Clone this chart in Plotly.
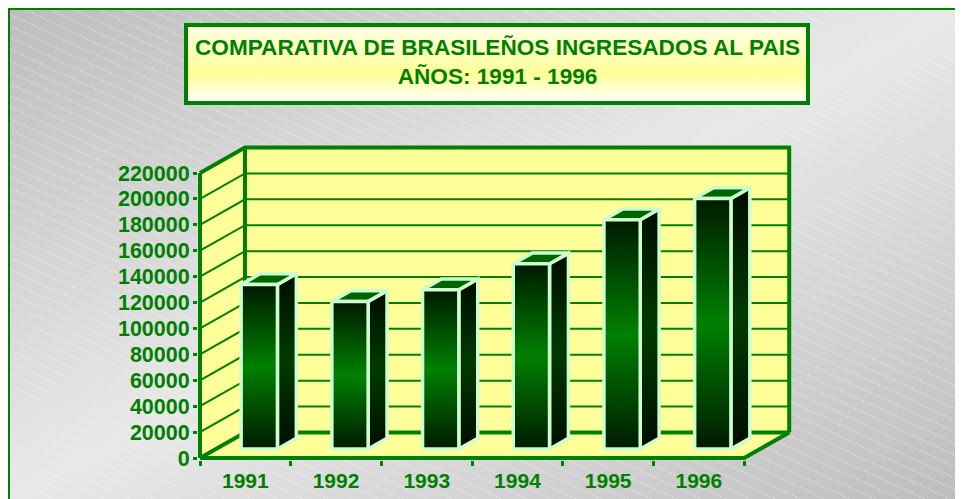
import base64
import plotly.graph_objects as go

# ---------------- data ----------------
years = ['1991', '1992', '1993', '1994', '1995', '1996']
values = [127000, 114000, 123000, 143000, 177000, 193500]
y_ticks = list(range(0, 220001, 20000))
title_text = 'COMPARATIVA DE BRASILEÑOS INGRESADOS AL PAIS<br>AÑOS: 1991 - 1996'

# ---------------- geometry / style ----------------
# (page body has an 8px margin, so figure coords = screen coords - 8)
W, H = 955, 491
PX_CAT = 90.7            # pixels per category
X0_PX = 192              # pixel of category 0 (front plane)
Y0_PX = 450              # pixel of value 0 (front plane)
K = 285 / 220000         # pixels per unit value
PLOT_L, PLOT_R, PLOT_T, PLOT_B = 190, 802, 122, 452

x_range = [(PLOT_L - X0_PX) / PX_CAT, (PLOT_R - X0_PX) / PX_CAT]
y_range = [(Y0_PX - PLOT_B) / K, (Y0_PX - PLOT_T) / K]
DX = 45 / PX_CAT         # depth offset in category units
DV = 25.5 / K            # depth offset in value units
VMAX = y_ticks[-1]
N = len(years)

GREEN = '#008000'
WALL = '#ffff99'
OUTLINE = '#ccffcc'
FONT = 'Liberation Sans, Arial, sans-serif'


def proj(c, v, t):
    return c + t * DX, v + t * DV


def path(points, close=False):
    xs, ys = [], []
    for p in points:
        if p is None:
            xs.append(None)
            ys.append(None)
            continue
        x, y = proj(*p)
        xs.append(x)
        ys.append(y)
    if close:
        xs.append(xs[0])
        ys.append(ys[0])
    return xs, ys


fig = go.Figure()

# walls
walls = [
    [(0, 0, 1), (N, 0, 1), (N, VMAX, 1), (0, VMAX, 1)],      # back wall
    [(0, 0, 0), (0, 0, 1), (0, VMAX, 1), (0, VMAX, 0)],      # left wall
    [(0, 0, 0), (N, 0, 0), (N, 0, 1), (0, 0, 1)],            # floor
]
for w in walls:
    xs, ys = path(w, close=True)
    fig.add_trace(go.Scatter(x=xs, y=ys, mode='lines', fill='toself',
                             fillcolor=WALL, line=dict(width=0),
                             hoverinfo='skip'))

# gridlines
pts = []
for v in y_ticks[1:-1]:
    pts += [(0, v, 0), (0, v, 1), (N, v, 1), None]
xs, ys = path(pts)
fig.add_trace(go.Scatter(x=xs, y=ys, mode='lines',
                         line=dict(color=GREEN, width=2), hoverinfo='skip'))

# thick frame edges
edges = [
    (0, 0, 0), (0, VMAX, 0), None,
    (0, VMAX, 0), (0, VMAX, 1), (N, VMAX, 1), (N, 0, 1), None,
    (0, VMAX, 1), (0, 0, 1), None,
    (0, 0, 0), (0, 0, 1), (N, 0, 1), None,
    (0, 0, 0), (N, 0, 0), (N, 0, 1), None,
]
xs, ys = path(edges)
fig.add_trace(go.Scatter(x=xs, y=ys, mode='lines',
                         line=dict(color=GREEN, width=4), hoverinfo='skip'))

# bars
BAR_OFF, BAR_W = 0.28, 0.40
T0, T1 = 0.35, 0.77
front_scale = [[0, '#001a00'], [0.5, '#008000'], [1, '#001a00']]
side_scale = [[0, '#000c00'], [0.5, '#003a00'], [1, '#000c00']]
for i, v in enumerate(values):
    x0, x1 = i + BAR_OFF, i + BAR_OFF + BAR_W
    side = [(x1, 0, T0), (x1, 0, T1), (x1, v, T1), (x1, v, T0)]
    top = [(x0, v, T0), (x1, v, T0), (x1, v, T1), (x0, v, T1)]
    front = [(x0, 0, T0), (x1, 0, T0), (x1, v, T0), (x0, v, T0)]
    xs, ys = path(side, close=True)
    fig.add_trace(go.Scatter(x=xs, y=ys, mode='lines', fill='toself',
                             fillgradient=dict(type='vertical', colorscale=side_scale),
                             line=dict(color=OUTLINE, width=3.5), hoverinfo='skip'))
    xs, ys = path(top, close=True)
    fig.add_trace(go.Scatter(x=xs, y=ys, mode='lines', fill='toself',
                             fillcolor='#006400',
                             line=dict(color=OUTLINE, width=3.5), hoverinfo='skip'))
    xs, ys = path(front, close=True)
    fig.add_trace(go.Scatter(x=xs, y=ys, mode='lines', fill='toself',
                             fillgradient=dict(type='vertical', colorscale=front_scale),
                             line=dict(color=OUTLINE, width=3.5), hoverinfo='skip'))

# ---------------- background (decoration) ----------------
svg = f'''<svg xmlns="http://www.w3.org/2000/svg" width="{W}" height="{H}" viewBox="0 0 {W} {H}" preserveAspectRatio="none">
<defs>
<linearGradient id="bg" x1="0" y1="0" x2="1" y2="1">
<stop offset="0" stop-color="#bdbdbd"/><stop offset="0.5" stop-color="#e8e8e8"/><stop offset="1" stop-color="#bdbdbd"/>
</linearGradient>
<pattern id="p" width="12" height="10.5" patternUnits="userSpaceOnUse" patternTransform="rotate(25)">
<line x1="0" y1="5" x2="12" y2="5" stroke="#ffffff" stroke-opacity="0.55" stroke-width="1" stroke-dasharray="2 2"/>
</pattern>
<linearGradient id="tb" x1="0" y1="0" x2="0" y2="1">
<stop offset="0" stop-color="#ffffe6"/><stop offset="0.62" stop-color="#ffff99"/><stop offset="1" stop-color="#ffffff"/>
</linearGradient>
</defs>
<rect x="0" y="0" width="{W}" height="{H}" fill="url(#bg)"/>
<rect x="0" y="0" width="{W}" height="{H}" fill="url(#p)"/>
<rect x="0.5" y="0.5" width="{W + 20}" height="{H + 20}" fill="none" stroke="{GREEN}" stroke-width="3"/>
<rect x="178" y="17" width="622" height="78" fill="url(#tb)" stroke="{GREEN}" stroke-width="4"/>
</svg>'''
src = 'data:image/svg+xml;base64,' + base64.b64encode(svg.encode('utf-8')).decode('ascii')

pw, ph = PLOT_R - PLOT_L, PLOT_B - PLOT_T


def px_to_paper(px, py):
    return (px - PLOT_L) / pw, (PLOT_B - py) / ph


ix, iy = px_to_paper(0, 0)
tx, ty = px_to_paper(489, 54)

fig.update_layout(
    width=W, height=H,
    margin=dict(l=PLOT_L, r=W - PLOT_R, t=PLOT_T, b=H - PLOT_B, pad=0),
    paper_bgcolor='#ffffff', plot_bgcolor='rgba(0,0,0,0)',
    showlegend=False,
    images=[dict(source=src, xref='paper', yref='paper', x=ix, y=iy,
                 sizex=W / pw, sizey=H / ph, xanchor='left', yanchor='top',
                 sizing='stretch', layer='below')],
    annotations=[dict(text=title_text, xref='paper', yref='paper', x=tx, y=ty,
                      xanchor='center', yanchor='middle', showarrow=False,
                      font=dict(family=FONT, size=22.6, color=GREEN, weight='bold'))],
    xaxis=dict(range=x_range, tickmode='array',
               tickvals=[i + 0.5 for i in range(N)], ticktext=years,
               ticks='outside', ticklen=2, tickcolor='rgba(0,0,0,0)',
               tickfont=dict(family=FONT, size=21, color=GREEN, weight='bold'),
               showgrid=False, zeroline=False, showline=False,
               automargin=False, fixedrange=True,
               minor=dict(tickmode='array', tickvals=list(range(N + 1)),
                          ticks='outside', ticklen=5, tickwidth=3,
                          tickcolor=GREEN, showgrid=False)),
    yaxis=dict(range=y_range, tickmode='array', tickvals=y_ticks,
               ticktext=[str(v) for v in y_ticks],
               ticks='outside', ticklen=4, tickwidth=3, tickcolor=GREEN,
               ticklabelstandoff=-1,
               tickfont=dict(family=FONT, size=21.5, color=GREEN, weight='bold'),
               showgrid=False, zeroline=False, showline=False,
               automargin=False, fixedrange=True),
)

fig.write_html('out.html')
